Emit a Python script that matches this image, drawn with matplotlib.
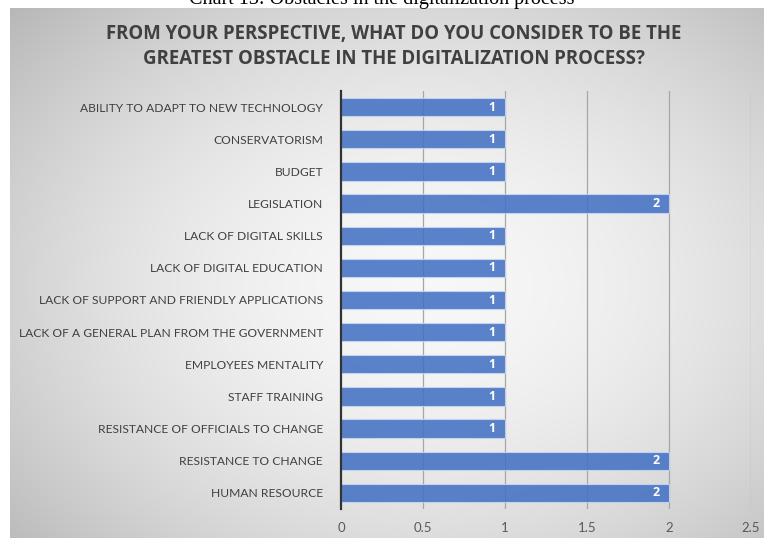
import numpy as np
import matplotlib.pyplot as plt

# survey answers, listed top to bottom
obstacles = [
    "ABILITY TO ADAPT TO NEW TECHNOLOGY",
    "CONSERVATORISM",
    "BUDGET",
    "LEGISLATION",
    "LACK OF DIGITAL SKILLS",
    "LACK OF DIGITAL EDUCATION",
    "LACK OF SUPPORT AND FRIENDLY APPLICATIONS",
    "LACK OF A GENERAL PLAN FROM THE GOVERNMENT",
    "EMPLOYEES MENTALITY",
    "STAFF TRAINING",
    "RESISTANCE OF OFFICIALS TO CHANGE",
    "RESISTANCE TO CHANGE",
    "HUMAN RESOURCE",
]
counts = [1, 1, 1, 2, 1, 1, 1, 1, 1, 1, 1, 2, 2]
xticks = [0, 0.5, 1, 1.5, 2, 2.5]
xtick_labels = ["0", "0.5", "1", "1.5", "2", "2.5"]

W, H = 764, 538
fig = plt.figure(figsize=(W / 100, H / 100), dpi=100)
fig.patch.set_facecolor("white")

# caption above the chart panel (only its lower part shows)
fig.text(0.5, 1 - 4 / H, "Chart 13: Obstacles in the digitalization process",
         ha="center", va="baseline", fontsize=14.5, family="Liberation Serif",
         color="black")

# chart panel with a radial grey gradient
px0, py0 = 10, 8
bg = fig.add_axes([px0 / W, 0, 1 - px0 / W, 1 - py0 / H])
gx, gy = np.meshgrid(np.linspace(-1, 1, 400), np.linspace(-1, 1, 300))
r = np.sqrt(((gx - 0.1) / 1.2) ** 2 + ((gy - 0.05) / 1.25) ** 2)
shade = 0.97 - 0.17 * np.clip(r, 0, 1.3) ** 1.8
bg.imshow(np.dstack([shade] * 3), aspect="auto", extent=[0, 1, 0, 1],
          interpolation="bicubic")
bg.set_axis_off()

title_x = 394 / W
fig.text(title_x, 1 - 34 / H,
         "FROM YOUR PERSPECTIVE, WHAT DO YOU CONSIDER TO BE THE",
         ha="center", va="center", fontsize=13.4, family="Open Sans",
         weight="bold", color="#404040")
fig.text(title_x, 1 - 59 / H,
         "GREATEST OBSTACLE IN THE DIGITALIZATION PROCESS?",
         ha="center", va="center", fontsize=13.4, family="Open Sans",
         weight="bold", color="#404040")

# plot area: x=0 at 341px, x=2.5 at 751px
ax_l, ax_r, ax_t, ax_b = 341, 751, 91, 509
ax = fig.add_axes([ax_l / W, 1 - ax_b / H, (ax_r - ax_l) / W, (ax_b - ax_t) / H])
ax.patch.set_alpha(0)

y = np.arange(len(obstacles))
ax.set_xlim(0, 2.5)
ax.set_ylim(len(obstacles) - 0.5, -0.5)
for xv in xticks[1:]:
    ax.axvline(xv, color="#a6a6a6", lw=0.9, zorder=1)

bars = ax.barh(y, counts, height=0.57, color="#4472c4", alpha=0.88,
               edgecolor="#c9d6f0", linewidth=0.8, zorder=2)
for b, v in zip(bars, counts):
    ax.text(v - 0.06, b.get_y() + b.get_height() / 2, str(v),
            ha="right", va="center", color="white", fontsize=9,
            family="Open Sans", weight="bold", zorder=3)

ax.set_yticks(y)
ax.set_yticklabels(obstacles, fontsize=8.65, family="Lato", color="#404040")
ax.set_xticks(xticks)
ax.set_xticklabels(xtick_labels, fontsize=9.5, family="Lato", color="#595959")
ax.tick_params(axis="y", length=0, pad=13)
ax.tick_params(axis="x", length=0, pad=9)

for s in ["top", "right", "bottom"]:
    ax.spines[s].set_visible(False)
ax.spines["left"].set_color("#333333")
ax.spines["left"].set_linewidth(1.6)
ax.spines["left"].set_zorder(4)

fig.savefig("out.png", dpi=100)
